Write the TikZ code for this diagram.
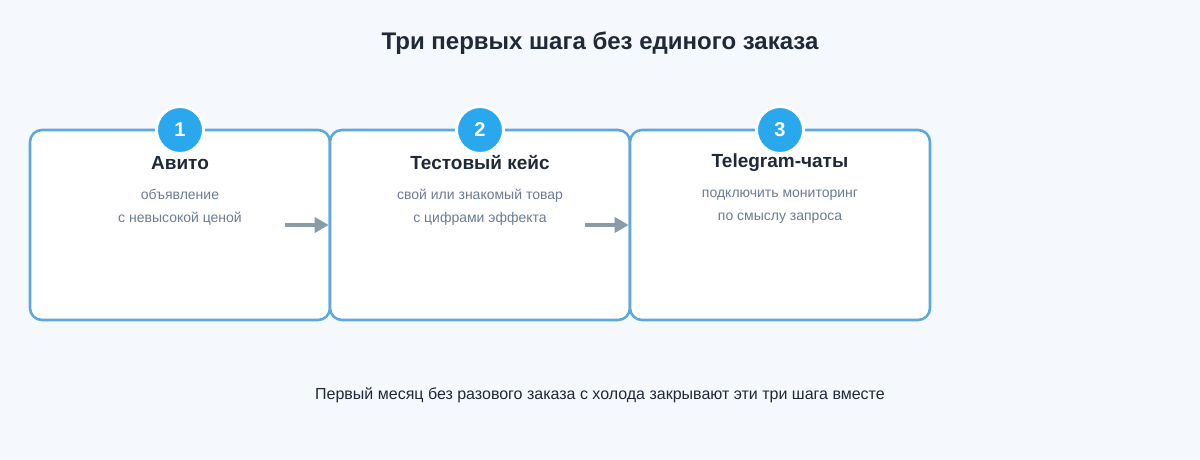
\documentclass[tikz,border=0pt]{standalone}
\usepackage{fontspec}
\setmainfont{Liberation Sans}
\usetikzlibrary{arrows.meta}
\definecolor{bgc}{HTML}{F5F8FD}
\definecolor{boxc}{HTML}{5FA8DC}
\definecolor{numc}{HTML}{2AA8EE}
\definecolor{titc}{HTML}{1F2937}
\definecolor{subc}{HTML}{6B7C93}
\definecolor{arrc}{HTML}{8A9BA8}
\tikzset{
	stepbox/.style={draw=boxc,line width=2.6pt,fill=white,rounded corners=12pt,minimum width=300pt,minimum height=190pt,inner sep=0pt},
	num/.style={circle,fill=numc,draw=white,line width=3pt,minimum size=47pt,inner sep=0pt,text=white,font=\fontsize{20}{20}\selectfont\bfseries},
	head/.style={text=titc,font=\fontsize{19}{20}\selectfont\bfseries},
	sub/.style={text=subc,font=\fontsize{14}{23}\selectfont,align=center},
	flow/.style={-{Triangle[length=14pt,width=15pt]},arrc,line width=4pt}
}
\begin{document}
\begin{tikzpicture}[x=1pt,y=-1pt]
	\fill[bgc] (0,0) rectangle (1200,460);
	\useasboundingbox (0,0) rectangle (1200,460);
	\node[text=titc,font=\fontsize{24}{26}\selectfont\bfseries] (title) at (600,43) {Три первых шага без единого заказа};
	\foreach \n/\x/\h/\a/\b in {1/180/Авито/объявление/с невысокой ценой,
		2/480/Тестовый кейс/свой или знакомый товар/с цифрами эффекта,
		3/780/Telegram-чаты/подключить мониторинг/по смыслу запроса}{
		\node[stepbox] (box\n) at (\x,225) {};
		\node[num] (num\n) at (\x,130) {\n};
		\node[head] (head\n) at (\x,163) {\h};
		\node[sub] (sub\n) at (\x,207) {\a\\\b};
	}
	\coordinate (a1) at (285,225);
	\coordinate (a2) at (585,225);
	\draw[flow] (a1) -- (box2.west);
	\draw[flow] (a2) -- (box3.west);
	\node[text=titc,font=\fontsize{16}{18}\selectfont] (foot) at (600,395) {Первый месяц без разового заказа с холода закрывают эти три шага вместе};
\end{tikzpicture}
\end{document}
